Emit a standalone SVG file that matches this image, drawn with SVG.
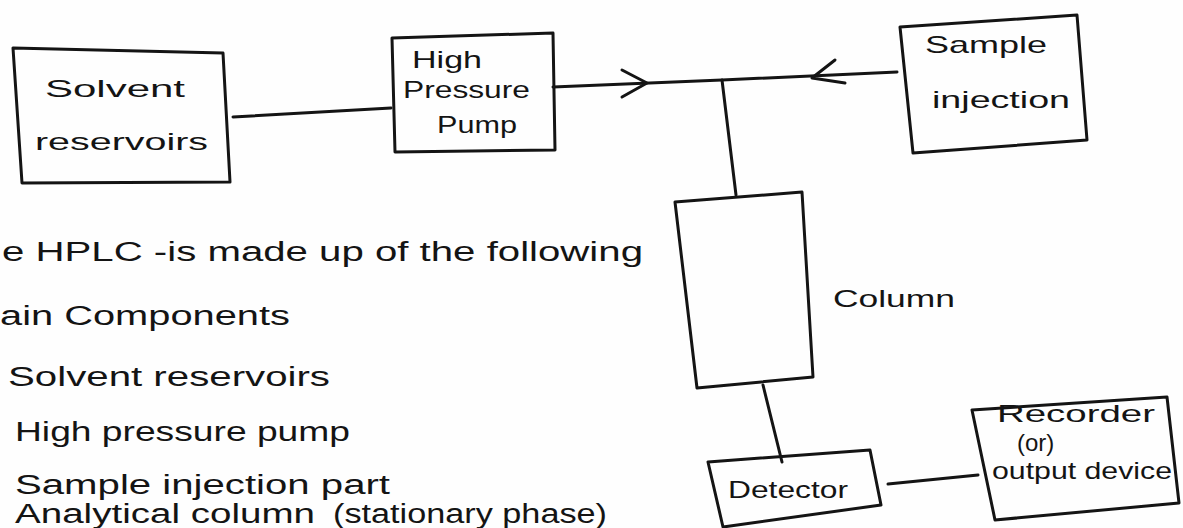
<svg xmlns="http://www.w3.org/2000/svg" width="1183" height="528" viewBox="0 0 1183 528">
  <style>
    .box { fill: none; stroke: #141414; stroke-width: 3; stroke-linejoin: round; }
    .edge { fill: none; stroke: #141414; stroke-width: 3; stroke-linecap: round; stroke-linejoin: round; }
    .lbl { font-family: "Liberation Sans", Arial, sans-serif; fill: #141414; font-size: 24px; }
    .note { font-family: "Liberation Sans", Arial, sans-serif; fill: #141414; font-size: 27px; }
  </style>
  <rect x="0" y="0" width="1183" height="528" fill="#fefefe"/>

  <g id="connectors">
    <path class="edge" d="M233 117 L391 108"/>
    <path class="edge" d="M553 87 L722 80 L897 72"/>
    <path class="edge" d="M622 70 L647 83 L622 97"/>
    <path class="edge" d="M835 60 L812 78 L845 83"/>
    <path class="edge" d="M722 80 L736 195"/>
    <path class="edge" d="M763 385 L782 462"/>
    <path class="edge" d="M888 484 L978 475"/>
  </g>

  <g id="solvent-reservoirs">
    <path class="box" d="M13 48 L223 53 L230 182 L22 183 Z"/>
    <text class="lbl" x="45" y="97" textLength="140" lengthAdjust="spacingAndGlyphs">Solvent</text>
    <text class="lbl" x="35" y="150" textLength="173" lengthAdjust="spacingAndGlyphs">reservoirs</text>
  </g>

  <g id="high-pressure-pump">
    <path class="box" d="M392 38 L553 33 L555 150 L395 152 Z"/>
    <text class="lbl" x="412" y="68" textLength="70" lengthAdjust="spacingAndGlyphs">High</text>
    <text class="lbl" x="403" y="98" textLength="127" lengthAdjust="spacingAndGlyphs">Pressure</text>
    <text class="lbl" x="437" y="133" textLength="80" lengthAdjust="spacingAndGlyphs">Pump</text>
  </g>

  <g id="sample-injection">
    <path class="box" d="M900 27 L1077 15 L1087 140 L913 153 Z"/>
    <text class="lbl" x="925" y="53" textLength="122" lengthAdjust="spacingAndGlyphs">Sample</text>
    <text class="lbl" x="932" y="108" textLength="138" lengthAdjust="spacingAndGlyphs">injection</text>
  </g>

  <g id="column">
    <path class="box" d="M675 202 L802 192 L813 377 L697 388 Z"/>
    <text class="lbl" x="833" y="307" font-size="28" textLength="122" lengthAdjust="spacingAndGlyphs">Column</text>
  </g>

  <g id="detector">
    <path class="box" d="M708 462 L870 450 L881 505 L723 527 Z"/>
    <text class="lbl" x="728" y="498" textLength="120" lengthAdjust="spacingAndGlyphs">Detector</text>
  </g>

  <g id="recorder">
    <path class="box" d="M972 410 L1167 397 L1179 503 L995 520 Z"/>
    <text class="lbl" x="997" y="422" font-size="20" textLength="158" lengthAdjust="spacingAndGlyphs">Recorder</text>
    <text class="lbl" x="1017" y="451" font-size="12">(or)</text>
    <text class="lbl" x="992" y="479" font-size="20" textLength="180" lengthAdjust="spacingAndGlyphs">output device</text>
  </g>

  <g id="notes">
    <text class="note" x="2" y="261" textLength="641" lengthAdjust="spacingAndGlyphs">e HPLC -is made up of the following</text>
    <text class="note" x="0" y="325" textLength="290" lengthAdjust="spacingAndGlyphs">ain Components</text>
    <text class="note" x="8" y="386" textLength="322" lengthAdjust="spacingAndGlyphs">Solvent reservoirs</text>
    <text class="note" x="15" y="441" textLength="335" lengthAdjust="spacingAndGlyphs">High pressure pump</text>
    <text class="note" x="15" y="494" textLength="375" lengthAdjust="spacingAndGlyphs">Sample injection part</text>
    <text class="note" x="15" y="523" font-size="18" textLength="300" lengthAdjust="spacingAndGlyphs">Analytical column</text>
    <text class="note" x="333" y="523" font-size="18" textLength="274" lengthAdjust="spacingAndGlyphs">(stationary phase)</text>
  </g>
</svg>
